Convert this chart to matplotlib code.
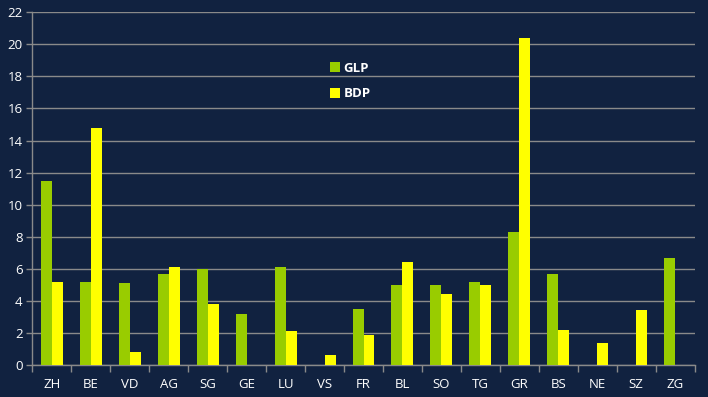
import matplotlib
matplotlib.use("Agg")
import matplotlib.pyplot as plt
import numpy as np
from matplotlib.patches import Patch

categories = ["ZH", "BE", "VD", "AG", "SG", "GE", "LU", "VS", "FR", "BL",
              "SO", "TG", "GR", "BS", "NE", "SZ", "ZG"]
glp = [11.5, 5.2, 5.1, 5.7, 6.0, 3.2, 6.1, 0, 3.5, 5.0, 5.0, 5.2, 8.3, 5.7, 0, 0, 6.7]
bdp = [5.2, 14.8, 0.8, 6.1, 3.8, 0, 2.1, 0.6, 1.9, 6.4, 4.4, 5.0, 20.4, 2.2, 1.4, 3.4, 0]
series_names = ["GLP", "BDP"]
yticks = list(range(0, 23, 2))

bg = "#112240"
grid_c = "#8a8a8a"
green = "#99cc00"
yellow = "#ffff00"

plt.rcParams['font.family'] = ['Open Sans', 'DejaVu Sans']

fig = plt.figure(figsize=(7.08, 3.97), dpi=100, facecolor=bg)
ax = fig.add_axes([32.3/708, 1-365/397, (694.7-32.3)/708, (365-12.3)/397])
ax.set_facecolor(bg)

x = np.arange(len(categories))
w = 0.282
ax.bar(x - w/2, glp, width=w, color=green, zorder=3, label=series_names[0])
ax.bar(x + w/2, bdp, width=w, color=yellow, zorder=3, label=series_names[1])

ax.set_xlim(-0.5, len(categories) - 0.5)
ax.set_ylim(0, 22)
ax.set_yticks(yticks)
ax.yaxis.grid(True, color=grid_c, linewidth=1.0, zorder=0)
ax.set_axisbelow(True)

ax.set_xticks(x)
ax.set_xticklabels(categories)
ax.set_xticks(np.arange(-0.5, len(categories), 1.0), minor=True)
ax.tick_params(axis='x', which='major', length=0, pad=9, colors='white', labelsize=9.5)
ax.tick_params(axis='x', which='minor', length=5, width=1, color=grid_c)
ax.tick_params(axis='y', length=4, width=1, color=grid_c, colors='white', labelsize=9.5, pad=3)
for lab in ax.get_yticklabels() + ax.get_xticklabels():
    lab.set_color('white')

for s in ['top', 'right']:
    ax.spines[s].set_visible(False)
for s in ['left', 'bottom']:
    ax.spines[s].set_color(grid_c)
    ax.spines[s].set_linewidth(1.0)

handles = [Patch(facecolor=green, label=series_names[0]),
           Patch(facecolor=yellow, label=series_names[1])]
leg = fig.legend(handles=handles, loc='upper left',
                 bbox_to_anchor=(318/708, 1-50/397), frameon=False,
                 handlelength=0.75, handleheight=0.75, handletextpad=0.3,
                 labelspacing=0.95, prop={'size': 9.5, 'weight': 'bold'})
for t in leg.get_texts():
    t.set_color('white')

fig.savefig("out.png", dpi=100, facecolor=bg)
